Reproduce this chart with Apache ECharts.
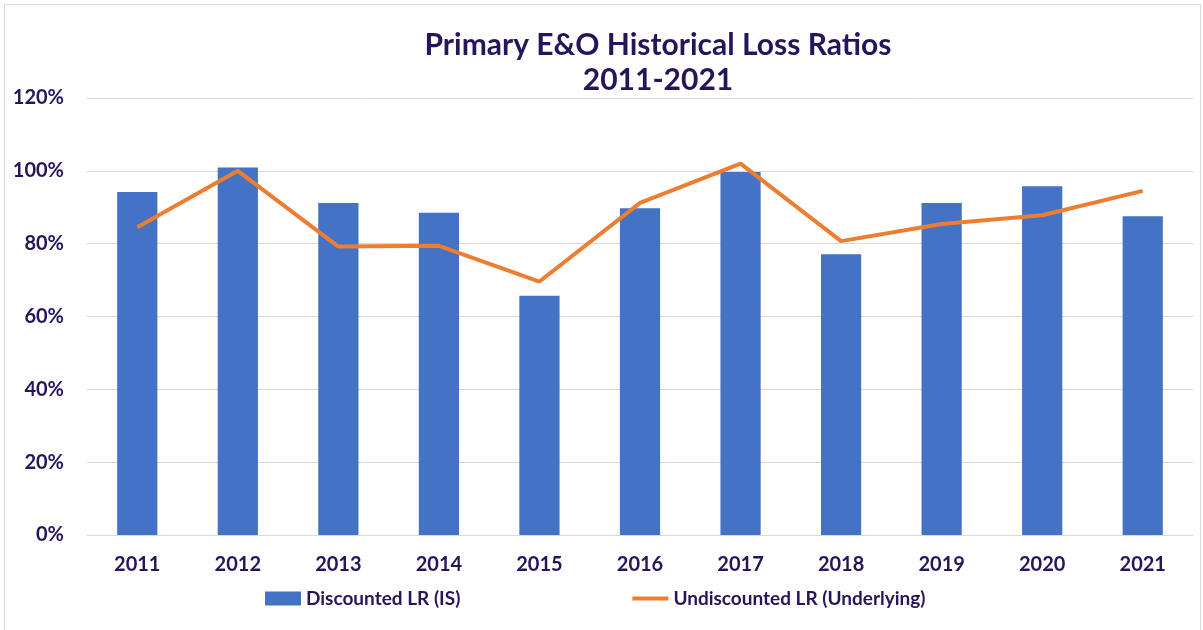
<!DOCTYPE html>
<html>
<head>
<meta charset="utf-8">
<script src="https://cdn.jsdelivr.net/npm/echarts@6/dist/echarts.min.js"></script>
<style>
  html, body { margin: 0; padding: 0; background: #fff; }
  #chart {
    position: absolute; left: 4px; top: 4px;
    width: 1197px; height: 640px;
    border: 1px solid #d9d9d9; box-sizing: border-box;
  }
</style>
</head>
<body>
<div id="chart"></div>
<script>
var years = ["2011", "2012", "2013", "2014", "2015", "2016", "2017", "2018", "2019", "2020", "2021"];
var discountedLR = [94.2, 100.9, 91.2, 88.5, 65.7, 89.7, 99.7, 77.1, 91.2, 95.8, 87.5];
var undiscountedLR = [84.5, 100.0, 79.2, 79.4, 69.6, 91.2, 102.0, 80.7, 85.4, 87.8, 94.5];

var textColor = "#27155a";
var fontFam = "Lato, sans-serif";

var chart = echarts.init(document.getElementById("chart"));
chart.setOption({
  animation: false,
  title: {
    text: "Primary E&O Historical Loss Ratios\n2011-2021",
    left: 648,
    textAlign: "center",
    top: 18,
    textStyle: {
      color: textColor,
      fontFamily: fontFam,
      fontWeight: "bold",
      fontSize: 30,
      lineHeight: 35
    }
  },
  legend: {
    data: [
      { name: "Discounted LR (IS)", icon: "rect" },
      { name: "Undiscounted LR (Underlying)", icon: "path://M0,0H36V4H0Z" }
    ],
    top: 579,
    left: 255,
    itemGap: 172,
    itemWidth: 36,
    itemHeight: 14,
    textStyle: {
      color: textColor,
      fontFamily: fontFam,
      fontWeight: "bold",
      fontSize: 19
    }
  },
  grid: {
    left: 82,
    right: 7,
    top: 93,
    bottom: 108
  },
  xAxis: {
    type: "category",
    data: years,
    axisTick: { show: false },
    axisLine: { lineStyle: { color: "#d9d9d9", width: 1 } },
    axisLabel: {
      color: textColor,
      fontFamily: fontFam,
      fontWeight: "bold",
      fontSize: 20,
      margin: 20
    }
  },
  yAxis: {
    type: "value",
    min: 0,
    max: 120,
    interval: 20,
    axisLine: { show: false },
    axisTick: { show: false },
    splitLine: { lineStyle: { color: "#d9d9d9", width: 1 } },
    axisLabel: {
      formatter: "{value}%",
      color: textColor,
      fontFamily: fontFam,
      fontWeight: "bold",
      fontSize: 20,
      margin: 23
    }
  },
  series: [
    {
      name: "Discounted LR (IS)",
      type: "bar",
      data: discountedLR,
      barWidth: "40%",
      itemStyle: { color: "#4472c4" }
    },
    {
      name: "Undiscounted LR (Underlying)",
      type: "line",
      data: undiscountedLR,
      symbol: "none",
      lineStyle: { color: "#ed7d31", width: 4 },
      itemStyle: { color: "#ed7d31" }
    }
  ]
});
</script>
</body>
</html>
